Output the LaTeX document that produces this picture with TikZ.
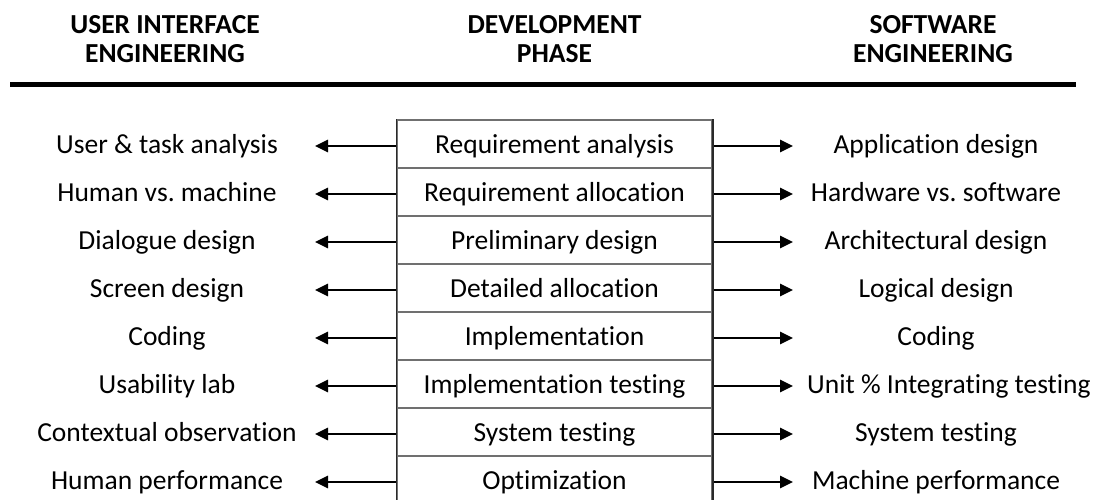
\documentclass[tikz,border=0pt]{standalone}
\usepackage{fontspec}
\setmainfont{Carlito}[Ligatures={NoCommon}]
\usetikzlibrary{arrows.meta}
\definecolor{sidecol}{HTML}{2A2A2A}
\definecolor{rowcol}{HTML}{707070}
\frenchspacing
\begin{document}
\begin{tikzpicture}[x=1pt,y=-1pt,
  lbl/.style={font=\fontsize{27.5}{30}\selectfont, inner sep=0pt, text height=18pt, text depth=0pt},
  hdr/.style={font=\fontsize{27.5}{29}\selectfont\bfseries, align=center, inner sep=0pt, anchor=north},
  phase/.style={lbl, draw=rowcol, line width=1.5pt, minimum width=315pt, minimum height=48pt},
  conn/.style={-{Triangle[length=13pt,width=12pt]}, line width=2.6pt, black}]
\useasboundingbox (0,0) rectangle (1099,500);
\begin{scope}
\clip (0,0) rectangle (1099,500);
% headers
\node[hdr] (h1) at (165,15.3) {USER INTERFACE\\ENGINEERING};
\node[hdr] (h2) at (554.5,15.3) {DEVELOPMENT\\PHASE};
\node[hdr] (h3) at (933,15.3) {SOFTWARE\\ENGINEERING};
\draw[line width=5.5pt] (10,84.5) -- (1076,84.5);
% phases
\foreach \i/\t/\l/\r in {1/Requirement analysis/User \& task analysis/Application design,
  2/Requirement allocation/Human vs. machine/Hardware vs. software,
  3/Preliminary design/Dialogue design/Architectural design,
  4/Detailed allocation/Screen design/Logical design,
  5/Implementation/Coding/Coding,
  6/Implementation testing/Usability lab/,
  7/System testing/Contextual observation/System testing,
  8/Optimization/Human performance/Machine performance}{
  \pgfmathsetmacro{\yy}{96+48*\i}
  \node[phase] (p\i) at (554.5,\yy) {\t};
  \node[lbl] (l\i) at (167,\yy) {\l};
  \node[lbl] (r\i) at (936,\yy) {\r};
  \coordinate (la\i) at (315,\yy+2);
  \coordinate (ra\i) at (793,\yy+2);
  \draw[conn] ([yshift=-2pt]p\i.west) -- (la\i);
  \draw[conn] ([yshift=-2pt]p\i.east) -- (ra\i);
}
\node[lbl, anchor=west] (r6b) at (807,384) {Unit \% Integrating testing};
% outer sides of the phase column
\draw[sidecol, line width=1.5pt] (p8.south west) -- (p1.north west);
\draw[sidecol, line width=1.5pt] (p8.south east) -- (p1.north east);
\end{scope}
\end{tikzpicture}
\end{document}
